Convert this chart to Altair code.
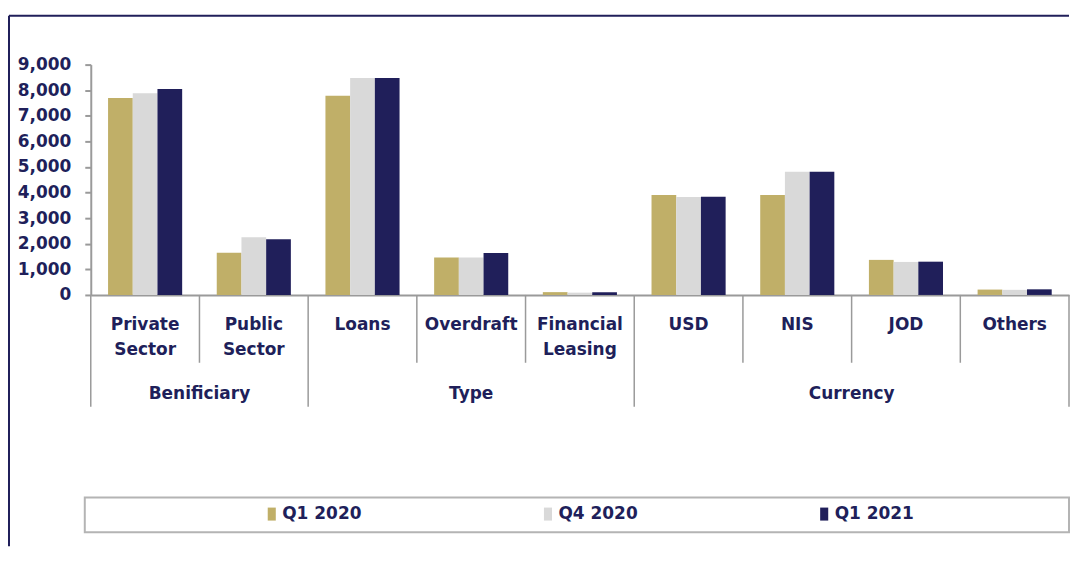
import altair as alt
import pandas as pd

categories = ["Private Sector", "Public Sector", "Loans", "Overdraft", "Financial Leasing",
              "USD", "NIS", "JOD", "Others"]
cat_labels = ["Private\nSector", "Public\nSector", "Loans", "Overdraft", "Financial\nLeasing",
              "USD", "NIS", "JOD", "Others"]
series = ["Q1 2020", "Q4 2020", "Q1 2021"]
q1_2020 = [7700, 1650, 7780, 1460, 110, 3910, 3910, 1370, 210]
q4_2020 = [7880, 2250, 8480, 1460, 90, 3830, 4810, 1290, 200]
q1_2021 = [8050, 2180, 8480, 1640, 110, 3840, 4810, 1300, 220]
y_ticks = [0, 1000, 2000, 3000, 4000, 5000, 6000, 7000, 8000, 9000]

colors = ["#C0AF68", "#D9D9D9", "#201F5A"]
NAVY = "#201F5A"
GRAY = "#9A9A9A"
FONT = "DejaVu Sans"
W, H = 981, 231

rows = []
for s, vals in zip(series, [q1_2020, q4_2020, q1_2021]):
    for c, v in zip(categories, vals):
        rows.append({"category": c, "series": s, "value": v})
df = pd.DataFrame(rows)

xscale = alt.Scale(domain=categories, paddingInner=0, paddingOuter=0)

bars = alt.Chart(df).mark_bar().encode(
    x=alt.X("category:N", scale=xscale, sort=categories,
            axis=alt.Axis(labels=False, ticks=False, title=None,
                          domainColor=GRAY, domainWidth=2)),
    xOffset=alt.XOffset("series:N", sort=series,
                        scale=alt.Scale(domain=series, paddingInner=0, paddingOuter=0.7)),
    y=alt.Y("value:Q", scale=alt.Scale(domain=[0, 9000], nice=False),
            axis=alt.Axis(values=y_ticks, format=",d", title=None, grid=False,
                          domainColor=GRAY, domainWidth=2, tickColor=GRAY, tickWidth=2,
                          tickSize=6, labelPadding=14, labelFont=FONT, labelFontSize=17,
                          labelFontWeight="bold", labelColor=NAVY)),
    color=alt.Color("series:N", sort=series,
                    scale=alt.Scale(domain=series, range=colors),
                    legend=alt.Legend(orient="none", legendX=173, legendY=442,
                                      direction="horizontal", title=None,
                                      symbolType="M-0.62,-1H0.62V1H-0.62Z",
                                      symbolSize=170, symbolStrokeWidth=0,
                                      labelFont=FONT, labelFontSize=17,
                                      labelFontWeight="bold", labelColor=NAVY,
                                      columnPadding=178, labelOffset=2, padding=0)),
)

cat_df = pd.DataFrame({"category": categories, "label": cat_labels})
cat_text = alt.Chart(cat_df).mark_text(
    font=FONT, fontSize=17, fontWeight="bold", color=NAVY, baseline="top",
    lineBreak="\n", lineHeight=25, align="center"
).encode(
    x=alt.X("category:N", scale=xscale, sort=categories),
    y=alt.value(H + 22),
    text="label:N",
)

short_df = pd.DataFrame({"category": ["Public Sector", "Overdraft", "Financial Leasing",
                                      "NIS", "JOD", "Others"]})
long_df = pd.DataFrame({"category": ["Private Sector", "Loans", "USD"]})
end_df = pd.DataFrame({"category": ["Others"]})

short_rules = alt.Chart(short_df).mark_rule(color=GRAY, strokeWidth=1.5).encode(
    x=alt.X("category:N", scale=xscale, sort=categories, bandPosition=0),
    y=alt.value(H), y2=alt.value(H + 68))
long_rules = alt.Chart(long_df).mark_rule(color=GRAY, strokeWidth=1.5).encode(
    x=alt.X("category:N", scale=xscale, sort=categories, bandPosition=0),
    y=alt.value(H), y2=alt.value(H + 112))
end_rule = alt.Chart(end_df).mark_rule(color=GRAY, strokeWidth=1.5).encode(
    x=alt.X("category:N", scale=xscale, sort=categories, bandPosition=1),
    y=alt.value(H), y2=alt.value(H + 112))

grp_a = pd.DataFrame({"category": ["Public Sector", "JOD"], "group": ["Benificiary", "Currency"]})
grp_b = pd.DataFrame({"category": ["Overdraft"], "group": ["Type"]})
grp_text_a = alt.Chart(grp_a).mark_text(
    font=FONT, fontSize=17, fontWeight="bold", color=NAVY, baseline="middle", align="center"
).encode(x=alt.X("category:N", scale=xscale, sort=categories, bandPosition=0),
         y=alt.value(H + 99), text="group:N")
grp_text_b = alt.Chart(grp_b).mark_text(
    font=FONT, fontSize=17, fontWeight="bold", color=NAVY, baseline="middle", align="center"
).encode(x=alt.X("category:N", scale=xscale, sort=categories),
         y=alt.value(H + 99), text="group:N")

one = pd.DataFrame({"k": [0]})
frame_top = alt.Chart(one).mark_rule(color=NAVY, strokeWidth=2).encode(
    x=alt.value(-82), x2=alt.value(W), y=alt.value(-49))
frame_left = alt.Chart(one).mark_rule(color=NAVY, strokeWidth=2).encode(
    x=alt.value(-82), y=alt.value(-49), y2=alt.value(483))
legend_box = alt.Chart(one).mark_rect(fillOpacity=0, stroke="#B4B4B4", strokeWidth=2).encode(
    x=alt.value(-6), x2=alt.value(W), y=alt.value(434), y2=alt.value(469))

chart = alt.layer(
    bars, short_rules, long_rules, end_rule, cat_text, grp_text_a, grp_text_b,
    frame_top, frame_left, legend_box
).properties(
    width=W, height=H,
    padding={"top": 6, "left": 0, "right": 0, "bottom": 0},
).configure_view(stroke=None)

chart.save("out.html", embed_options={"renderer": "svg", "actions": False})
